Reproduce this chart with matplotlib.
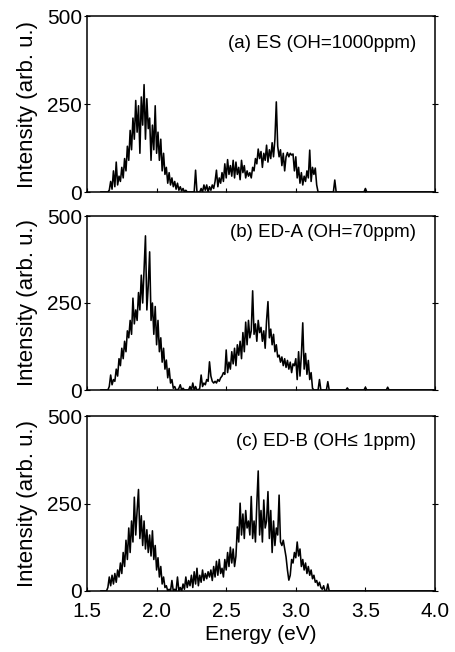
import numpy as np
import matplotlib
matplotlib.use("Agg")
import matplotlib.pyplot as plt

plt.rcParams['font.family'] = ['Liberation Sans', 'DejaVu Sans']

# Energy grid start / step (eV) for the sampled spectra
E_START = 1.60
E_STEP = 0.01

# (a) ES (OH=1000ppm): intensity, one row per 0.1 eV starting at 1.60 eV
intensity_a = [
    0, 0, 0, 0, 0, 0, 5, 30, 8, 60,                 # 1.60
    15, 85, 20, 45, 30, 70, 40, 95, 60, 130,        # 1.70
    90, 175, 120, 210, 150, 260, 170, 245, 110, 270,  # 1.80
    190, 305, 150, 265, 180, 210, 90, 190, 120, 245,  # 1.90
    110, 170, 90, 150, 60, 110, 50, 70, 25, 55,     # 2.00
    20, 40, 15, 30, 8, 25, 5, 15, 3, 10,            # 2.10
    0, 5, 0, 0, 0, 0, 0, 0, 62, 0,                  # 2.20
    0, 0, 10, 0, 20, 5, 20, 0, 15, 5,               # 2.30
    20, 10, 30, 62, 15, 40, 25, 55, 30, 80,         # 2.40
    40, 92, 50, 75, 45, 90, 40, 85, 50, 70,         # 2.50
    35, 90, 55, 75, 40, 60, 45, 55, 40, 70,         # 2.60
    60, 95, 80, 122, 95, 115, 70, 110, 90, 133,     # 2.70
    85, 120, 95, 140, 100, 150, 256, 130, 100, 120,  # 2.80
    75, 110, 60, 100, 112, 100, 110, 105, 108, 60,  # 2.90
    100, 40, 70, 25, 55, 20, 45, 30, 60, 40,        # 3.00
    119, 30, 70, 50, 68, 20, 0, 0, 0, 0,            # 3.10
    0, 0, 0, 0, 0, 0, 0, 0, 34, 0,                  # 3.20
    0, 0, 0, 0, 0, 0, 0, 0, 0, 0,                   # 3.30
    0, 0, 0, 0, 0, 0, 0, 0, 0, 0,                   # 3.40
    10, 0, 0, 0, 0, 0, 0, 0, 0, 0,                  # 3.50
    0, 0, 0, 0, 0, 0, 0, 0, 0, 0,                   # 3.60
    0, 0, 0, 0, 0, 0, 0, 0, 0, 0,                   # 3.70
    0, 0, 0, 0, 0, 0, 0, 0, 0, 0,                   # 3.80
    0, 0, 0, 0, 0, 0, 0, 0, 0, 0,                   # 3.90
]

# (b) ED-A (OH=70ppm)
intensity_b = [
    0, 0, 0, 0, 0, 0, 10, 43, 15, 30,               # 1.60
    25, 60, 40, 90, 70, 120, 90, 140, 110, 170,     # 1.70
    150, 200, 160, 264, 190, 230, 200, 280, 230, 330,  # 1.80
    250, 350, 443, 230, 300, 397, 200, 250, 160, 240,  # 1.90
    130, 200, 110, 150, 80, 120, 60, 86, 35, 62,    # 2.00
    20, 30, 5, 10, 0, 0, 5, 15, 0, 5,               # 2.10
    0, 0, 0, 0, 10, 0, 20, 0, 10, 0,                # 2.20
    0, 5, 43, 10, 20, 15, 30, 25, 81, 40,           # 2.30
    25, 20, 25, 20, 30, 25, 35, 40, 50, 45,         # 2.40
    115, 50, 80, 60, 110, 75, 120, 70, 130, 100,    # 2.50
    140, 90, 165, 110, 195, 130, 200, 150, 170, 285,  # 2.60
    160, 190, 140, 200, 165, 180, 140, 170, 120, 200,  # 2.70
    254, 150, 175, 130, 160, 110, 130, 95, 100, 80,  # 2.80
    95, 70, 90, 65, 85, 60, 80, 50, 75, 70,         # 2.90
    90, 30, 110, 40, 100, 193, 60, 105, 45, 85,     # 3.00
    30, 50, 5, 0, 0, 0, 0, 30, 0, 0,                # 3.10
    0, 0, 0, 24, 0, 0, 0, 0, 0, 0,                  # 3.20
    0, 0, 0, 0, 0, 0, 0, 6, 0, 0,                   # 3.30
    0, 0, 0, 0, 0, 0, 0, 0, 0, 0,                   # 3.40
    8, 0, 0, 0, 0, 0, 0, 0, 0, 0,                   # 3.50
    0, 0, 0, 0, 0, 0, 8, 0, 0, 0,                   # 3.60
    0, 0, 0, 0, 0, 0, 0, 0, 0, 0,                   # 3.70
    0, 0, 0, 0, 0, 0, 0, 0, 0, 0,                   # 3.80
    0, 0, 0, 0, 0, 0, 0, 0, 0, 0,                   # 3.90
]

# (c) ED-B (OH<=1ppm)
intensity_c = [
    0, 0, 0, 0, 0, 10, 40, 15, 45, 20,              # 1.60
    50, 25, 60, 40, 80, 50, 110, 70, 145, 90,       # 1.70
    180, 110, 200, 140, 268, 160, 230, 290, 150, 215,  # 1.80
    130, 200, 120, 175, 110, 160, 100, 172, 90, 130,  # 1.90
    60, 95, 40, 70, 20, 40, 10, 15, 0, 5,           # 2.00
    0, 30, 0, 5, 0, 40, 0, 10, 0, 20,               # 2.10
    5, 40, 10, 30, 15, 45, 10, 55, 20, 65,          # 2.20
    15, 45, 25, 60, 30, 50, 35, 55, 40, 60,         # 2.30
    30, 70, 40, 85, 45, 90, 50, 65, 40, 90,         # 2.40
    60, 110, 70, 125, 80, 120, 70, 100, 183, 140,   # 2.50
    251, 160, 220, 150, 230, 180, 200, 160, 270, 150,  # 2.60
    200, 140, 250, 343, 160, 230, 140, 260, 180, 200,  # 2.70
    284, 150, 230, 110, 200, 130, 180, 160, 274, 140,  # 2.80
    130, 145, 120, 97, 60, 31, 45, 90, 80, 110,     # 2.90
    95, 140, 100, 120, 70, 90, 60, 80, 50, 70,      # 3.00
    45, 60, 35, 45, 25, 30, 15, 25, 10, 5,          # 3.10
    15, 0, 0, 20, 0, 0, 0, 0, 0, 0,                 # 3.20
    0, 0, 0, 0, 0, 0, 0, 0, 0, 0,                   # 3.30
    0, 0, 0, 0, 0, 0, 0, 0, 0, 0,                   # 3.40
    0, 0, 0, 0, 0, 0, 0, 0, 0, 0,                   # 3.50
    0, 0, 0, 0, 0, 0, 0, 0, 0, 0,                   # 3.60
    0, 0, 0, 0, 0, 0, 0, 0, 0, 0,                   # 3.70
    0, 0, 0, 0, 0, 0, 0, 0, 0, 0,                   # 3.80
    0, 0, 0, 0, 0, 0, 0, 0, 0, 0,                   # 3.90
]

panel_labels = ["(a) ES (OH=1000ppm)", "(b) ED-A (OH=70ppm)", "(c) ED-B (OH\u2264 1ppm)"]
x_ticks = [1.5, 2.0, 2.5, 3.0, 3.5, 4.0]
x_tick_labels = ["1.5", "2.0", "2.5", "3.0", "3.5", "4.0"]
y_ticks = [0, 250, 500]
y_tick_labels = ["0", "250", "500"]

W, H = 456, 652
fig = plt.figure(figsize=(W / 100, H / 100), dpi=100)

# axes boxes in pixels: (top, bottom)
boxes = [(16, 192), (216, 390), (416, 591)]
left_px, right_px = 87, 435
label_y = [0.845, 0.905, 0.853]

series = [intensity_a, intensity_b, intensity_c]
for i, (data, (top, bot)) in enumerate(zip(series, boxes)):
    ax = fig.add_axes([left_px / W, 1 - bot / H, (right_px - left_px) / W, (bot - top) / H])
    energy = E_START + E_STEP * np.arange(len(data))
    ax.plot(energy, data, color='black', lw=1.15)
    ax.set_xlim(1.5, 4.0)
    ax.set_ylim(0, 500)
    ax.set_xticks(x_ticks)
    ax.set_yticks(y_ticks)
    ax.set_yticklabels(y_tick_labels, fontsize=15)
    ax.tick_params(axis='y', direction='inout', length=5, width=0.8, pad=1, right=True)
    ax.tick_params(axis='x', direction='in', length=3, width=0.8, pad=8, top=False)
    for s in ax.spines.values():
        s.set_linewidth(1.1)
    if i < 2:
        ax.set_xticklabels([])
    else:
        ax.set_xticklabels(x_tick_labels, fontsize=15)
        ax.set_xlabel("Energy (eV)", fontsize=15, labelpad=3)
    ax.set_ylabel("Intensity (arb. u.)", fontsize=16)
    ax.yaxis.set_label_coords(-0.14, 0.5)
    ax.text(0.945, label_y[i], panel_labels[i], transform=ax.transAxes,
            ha='right', va='center', fontsize=13.5)

fig.savefig("out.png", dpi=100)
